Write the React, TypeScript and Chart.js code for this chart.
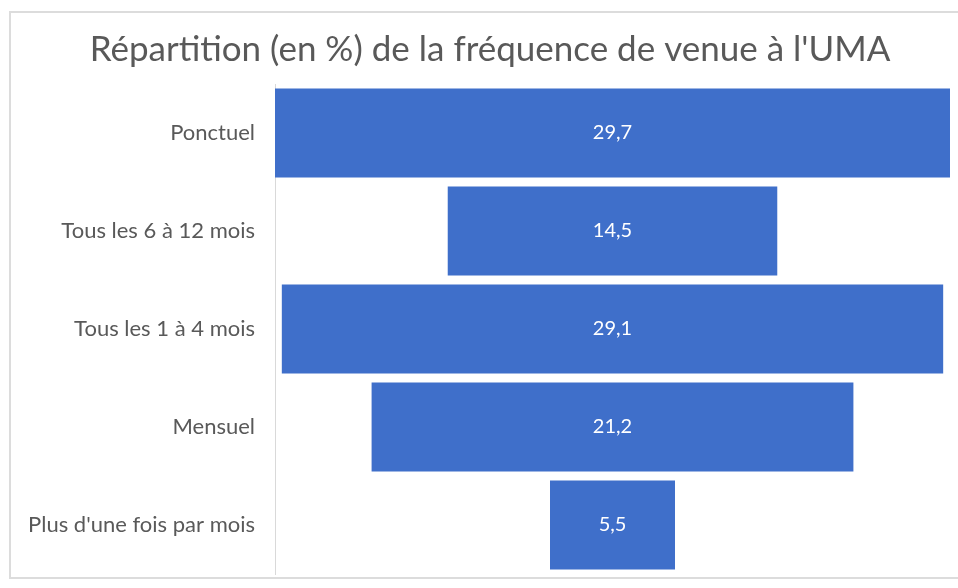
import React, { useEffect, useRef } from "react";
import { Chart, registerables } from "chart.js";

Chart.register(...registerables);

const categories = [
  "Ponctuel",
  "Tous les 6 à 12 mois",
  "Tous les 1 à 4 mois",
  "Mensuel",
  "Plus d'une fois par mois",
];
const values = [29.7, 14.5, 29.1, 21.2, 5.5];
const titleText = "Répartition (en %) de la fréquence de venue à l'UMA";

const BAR_COLOR = "#3F6FCA";
const TEXT_COLOR = "#595959";
const FONT = "Lato, 'Open Sans', sans-serif";

const frame = {
  id: "frame",
  beforeDraw(chart: any) {
    const c = chart.ctx;
    c.save();
    c.fillStyle = "#ffffff";
    c.fillRect(0, 0, chart.width, chart.height);
    c.strokeStyle = "#dcdcdc";
    c.lineWidth = 2;
    c.strokeRect(10, 12, chart.width, chart.height - 10 - 12);
    c.restore();
  },
};

const valueLabels = {
  id: "valueLabels",
  afterDatasetsDraw(chart: any) {
    const c = chart.ctx;
    const meta = chart.getDatasetMeta(0);
    c.save();
    c.fillStyle = "#ffffff";
    c.font = `20px ${FONT}`;
    c.textAlign = "center";
    c.textBaseline = "middle";
    meta.data.forEach((bar: any, i: number) => {
      const p = bar.getProps(["x", "base", "y"], true);
      const cx = (p.x + p.base) / 2;
      c.fillText(values[i].toFixed(1).replace(".", ","), cx, p.y);
    });
    c.restore();
  },
};

export default function App() {
  const ref = useRef<HTMLCanvasElement>(null);
  useEffect(() => {
    document.body.style.margin = "0";
    const max = Math.max(...values);
    const chart = new Chart(ref.current!, {
      type: "bar",
      data: {
        labels: categories,
        datasets: [
          {
            data: values.map((v) => [-v / 2, v / 2]) as any,
            backgroundColor: BAR_COLOR,
            borderWidth: 0,
            barPercentage: 0.91,
            categoryPercentage: 1,
          },
        ],
      },
      plugins: [frame, valueLabels],
      options: {
        indexAxis: "y",
        animation: false,
        responsive: false,
        layout: { padding: { left: 30, right: 8, top: 0, bottom: 14 } },
        plugins: {
          legend: { display: false },
          tooltip: { enabled: false },
          title: {
            display: true,
            text: titleText,
            color: TEXT_COLOR,
            font: { family: FONT, size: 35, weight: "normal" },
            padding: { top: 29, bottom: 13 },
          },
        },
        scales: {
          x: {
            display: false,
            min: -max / 2,
            max: max / 2,
          },
          y: {
            grid: { display: false },
            border: { display: true, color: "#d9d9d9", width: 1 },
            ticks: {
              color: TEXT_COLOR,
              font: { family: FONT, size: 22 },
              padding: 12,
            },
            afterFit(scale: any) {
              scale.width = 245;
              scale.paddingTop = 0;
              scale.paddingBottom = 0;
            },
          },
        },
      },
    });
    return () => chart.destroy();
  }, []);
  return <canvas ref={ref} width={958} height={588} style={{ display: "block" }} />;
}
